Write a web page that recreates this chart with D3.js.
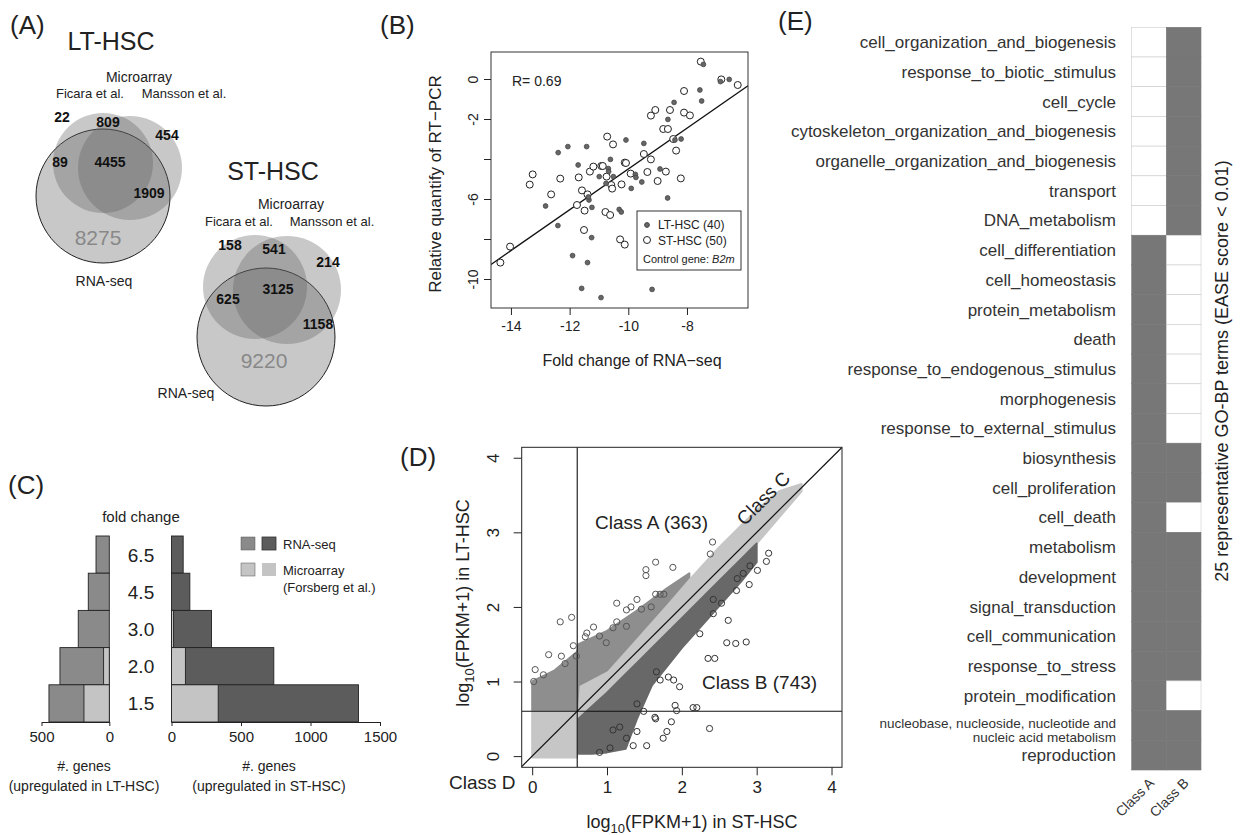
<!DOCTYPE html>
<html>
<head>
<meta charset="utf-8">
<script src="https://cdn.jsdelivr.net/npm/d3@7"></script>
<style>
body { margin: 0; background: #fff; }
svg text { font-family: "Liberation Sans", Arial, sans-serif; fill: #222; }
</style>
</head>
<body>
<script>
// ---------- DATA ----------
// (A) venn counts: Ficara only, Ficara&Mansson, Mansson only, Ficara&RNA, all, Mansson&RNA, RNA only
var vennRegions = ["F", "FM", "M", "FR", "FMR", "MR", "R"];
var ltCounts = [22, 809, 454, 89, 4455, 1909, 8275];
var stCounts = [158, 541, 214, 625, 3125, 1158, 9220];

// (B) fold change of RNA-seq vs relative quantity of RT-PCR
var ltPoints = [[-7.44,0.73],[-6.86,-0.13],[-6.56,-0.02],[-7.56,-0.55],[-7.5,-1.1],[-8.44,-1.17],[-8.65,-2.02],
  [-8.41,-3.05],[-8.2,-3.0],[-9.47,-3.22],[-10.08,-3.05],[-11.42,-3.38],[-12.06,-3.38],[-12.39,-3.68],
  [-11.71,-4.3],[-10.61,-4.02],[-10.68,-4.48],[-10.67,-4.63],[-10.99,-4.88],[-10.51,-4.88],[-9.76,-4.77],
  [-9.74,-4.92],[-9.54,-5.15],[-8.92,-4.5],[-9.9,-5.47],[-10.76,-5.22],[-8.66,-5.95],[-11.34,-6.05],
  [-11.24,-6.42],[-12.82,-6.35],[-12.4,-7.33],[-11.25,-7.93],[-10.31,-6.52],[-10.24,-6.65],[-11.9,-8.83],
  [-11.39,-9.18],[-11.59,-10.47],[-10.93,-10.93],[-9.19,-10.52],[-11.36,-5.9]];
var stPoints = [[-7.53,0.87],[-6.83,-0.02],[-6.27,-0.3],[-8.1,-0.6],[-9.08,-1.55],[-9.23,-1.83],[-8.58,-1.55],
  [-8.1,-1.68],[-7.9,-1.82],[-8.81,-2.5],[-8.65,-2.5],[-8.47,-3.0],[-8.37,-3.58],[-9.47,-3.75],[-9.23,-4.02],
  [-10.72,-2.88],[-10.52,-3.27],[-10.12,-4.18],[-10.08,-4.2],[-10.92,-4.35],[-10.87,-4.35],[-11.31,-4.63],
  [-10.74,-4.88],[-9.92,-4.73],[-9.35,-4.65],[-8.72,-4.63],[-9.0,-5.1],[-8.21,-4.97],[-11.69,-4.92],
  [-12.32,-4.98],[-13.26,-4.77],[-13.36,-5.28],[-12.63,-5.77],[-11.58,-5.57],[-11.39,-5.77],[-11.75,-6.3],
  [-11.49,-6.58],[-10.58,-5.3],[-10.23,-5.27],[-10.55,-5.48],[-10.78,-6.65],[-10.62,-6.8],[-11.51,-7.55],
  [-10.28,-8.02],[-10.12,-8.28],[-14.03,-8.38],[-14.36,-9.18],[-11.19,-4.38]];
var fitSlope = 1.02, fitIntercept = 5.7, rValue = "0.69";
var bXTicks = [-14, -12, -10, -8];
var bYTicks = [-10, -8, -6, -4, -2, 0];
var bYLabelled = [-10, -6, -2, 0];

// (C) number of genes per fold change
var foldChanges = ["6.5", "4.5", "3.0", "2.0", "1.5"];
var ltRnaseq = [98, 155, 229, 364, 445];
var ltMicro = [0, 0, 0, 42, 187];
var stRnaseq = [84, 132, 288, 736, 1345];
var stMicro = [0, 0, 15, 100, 336];
var ltTicks = [0, 500];
var stTicks = [0, 500, 1000, 1500];

// (D) log10(FPKM+1): dense clouds as bands, sparse genes as points
var lightX  = [0.0, 0.6, 0.62, 1.0, 1.5, 2.0, 2.5, 3.0, 3.3, 3.6];
var lightLo = [-0.02, -0.02, 0.5, 0.85, 1.35, 1.85, 2.35, 2.85, 3.2, 3.55];
var lightHi = [0.62, 0.62, 0.95, 1.15, 1.7, 2.25, 2.8, 3.3, 3.55, 3.65];
var classAX  = [0.0, 0.3, 0.6, 0.62, 1.0, 1.4, 1.8, 2.1];
var classALo = [0.62, 0.62, 0.62, 0.95, 1.15, 1.6, 2.05, 2.4];
var classAHi = [1.0, 1.15, 1.4, 1.5, 1.68, 1.95, 2.25, 2.45];
var classBX  = [0.62, 0.8, 1.0, 1.25, 1.4, 1.6, 2.0, 2.4, 2.8, 3.0];
var classBLo = [0.03, 0.03, 0.05, 0.1, 0.5, 0.95, 1.45, 1.9, 2.35, 2.6];
var classBHi = [0.5, 0.67, 0.85, 1.1, 1.25, 1.45, 1.85, 2.25, 2.65, 2.85];
var classAOut = [[0.375,1.80],[0.527,1.86],[1.13,2.05],[1.52,2.50],[1.52,2.42],[1.65,2.60],[1.88,2.53],
  [2.41,2.87],[2.38,2.71],[1.65,2.17],[1.71,2.17],[1.76,2.17],[1.40,2.10],[1.32,2.0],[1.46,1.97],[1.59,2.0],
  [1.26,1.74],[1.08,1.72],[0.82,1.73],[0.73,1.65],[0.90,1.61],[0.04,1.16],[0.02,1.0],[0.15,1.09],[0.22,1.36],
  [0.39,1.34],[0.59,1.34],[0.55,1.48],[0.44,1.24],[1.13,1.80],[1.26,1.96],[0.99,1.52],[0.71,1.60]];
var classBOut = [[3.16,2.72],[3.13,2.61],[2.91,2.55],[3.01,2.49],[2.90,2.30],[2.82,2.45],[2.74,2.38],
  [2.73,2.22],[2.62,1.82],[2.60,1.52],[2.72,1.51],[2.86,1.53],[2.35,1.31],[2.44,1.31],[2.42,1.91],[2.24,1.64],
  [2.15,0.65],[2.20,0.65],[1.91,0.68],[1.93,0.61],[2.37,0.37],[1.86,0.46],[1.64,0.52],[1.65,0.50],[1.80,0.33],
  [1.75,0.24],[1.53,0.14],[1.35,0.14],[1.26,0.24],[1.40,0.33],[1.08,0.35],[1.17,0.39],[0.90,0.05],[1.04,0.11],
  [1.89,1.02],[1.82,1.06],[1.97,0.93],[1.71,1.02],[1.66,1.13],[1.49,0.60],[1.40,0.70],[2.42,2.10],[2.53,2.05]];
var dTicks = [0, 1, 2, 3, 4];
var fpkmCut = 0.602;
var classACount = 363, classBCount = 743;

// (E) GO-BP terms, 1 = enriched
var goTerms = ["cell_organization_and_biogenesis", "response_to_biotic_stimulus", "cell_cycle",
  "cytoskeleton_organization_and_biogenesis", "organelle_organization_and_biogenesis", "transport",
  "DNA_metabolism", "cell_differentiation", "cell_homeostasis", "protein_metabolism", "death",
  "response_to_endogenous_stimulus", "morphogenesis", "response_to_external_stimulus", "biosynthesis",
  "cell_proliferation", "cell_death", "metabolism", "development", "signal_transduction",
  "cell_communication", "response_to_stress", "protein_modification",
  "nucleobase, nucleoside, nucleotide and|nucleic acid metabolism", "reproduction"];
var classA = [0,0,0,0,0,0,0,1,1,1,1,1,1,1,1,1,1,1,1,1,1,1,1,1,1];
var classB = [1,1,1,1,1,1,1,0,0,0,0,0,0,0,1,1,0,1,1,1,1,1,0,1,1];

// ---------- DRAWING ----------
var width = 1242, height = 835;
var svg = d3.select("body").append("svg")
  .attr("width", width).attr("height", height);
var defs = svg.append("defs");

function label(x, y, txt, size, opts) {
  opts = opts || {};
  var t = svg.append("text").attr("x", x).attr("y", y)
    .attr("font-size", size).text(txt);
  if (opts.anchor) t.attr("text-anchor", opts.anchor);
  if (opts.weight) t.attr("font-weight", opts.weight);
  if (opts.fill) t.style("fill", opts.fill);
  if (opts.rotate != null) t.attr("transform", "rotate(" + opts.rotate + "," + x + "," + y + ")");
  return t;
}
function hyphen(d) { return String(d); }

// R style left axis: rotated labels
function leftAxis(scale, x0, ticks, fmt, tickLen, labOff, fs) {
  var a = svg.append("g").attr("transform", "translate(" + x0 + ",0)")
    .call(d3.axisLeft(scale).tickValues(ticks).tickSize(tickLen).tickFormat(fmt));
  a.attr("font-family", null).attr("font-size", null);
  a.select(".domain").remove();
  a.selectAll("line").attr("stroke", "#222");
  a.selectAll("text").attr("x", null).attr("dy", null)
    .attr("text-anchor", "middle").attr("font-size", fs)
    .attr("transform", "translate(" + (-labOff) + ",0) rotate(-90)");
}
function bottomAxis(scale, y0, ticks, tickLen, labOff, fs, keepDomain) {
  var a = svg.append("g").attr("transform", "translate(0," + y0 + ")")
    .call(d3.axisBottom(scale).tickValues(ticks).tickSize(tickLen).tickSizeOuter(0).tickFormat(hyphen));
  a.attr("font-family", null).attr("font-size", null);
  if (!keepDomain) a.select(".domain").remove();
  a.selectAll("path, line").attr("stroke", "#222");
  a.selectAll("text").attr("y", labOff).attr("dy", null).attr("font-size", fs);
}

// panel letters
label(10, 34, "(A)", 26);
label(380, 34, "(B)", 26);
label(8, 494, "(C)", 26);
label(400, 466, "(D)", 26);
label(778, 30, "(E)", 26);

// ===== (A) Venn diagrams =====
function venn(layout, counts) {
  var g = svg.append("g");
  layout.circles.forEach(function(c, i) {
    g.append("circle").attr("cx", c[0]).attr("cy", c[1]).attr("r", c[2])
      .attr("fill", "#5e5e5e").attr("fill-opacity", 0.34)
      .attr("stroke", i == 0 ? "#222" : "none").attr("stroke-width", 1);
  });
  counts.forEach(function(n, i) {
    var p = layout.pos[i];
    var big = vennRegions[i] == "R";
    label(p[0], p[1], n, big ? 21 : 14, {anchor: "middle", weight: big ? null : "bold",
      fill: big ? "#888" : "#111"});
  });
  label(layout.title[0], layout.title[1], layout.name, 25, {anchor: "middle"});
  label(layout.micro[0], layout.micro[1], "Microarray", 14, {anchor: "middle"});
  label(layout.ficara[0], layout.ficara[1], "Ficara et al.", 13, {anchor: "middle"});
  label(layout.mansson[0], layout.mansson[1], "Mansson et al.", 13, {anchor: "middle"});
  label(layout.rna[0], layout.rna[1], "RNA-seq", 14, {anchor: "middle"});
}
venn({name: "LT-HSC", title: [111, 50], micro: [139, 82], ficara: [90, 98], mansson: [184, 98],
  rna: [104, 286],
  circles: [[103, 196, 67], [103, 163, 50], [130, 168, 52]],
  pos: [[62, 122], [108, 127], [167, 140], [60, 167], [110, 167], [149, 198], [98, 245]]}, ltCounts);
venn({name: "ST-HSC", title: [273, 180], micro: [291, 209], ficara: [239, 226], mansson: [332, 226],
  rna: [186, 398],
  circles: [[266, 337, 69], [255, 287, 52], [287, 290, 54]],
  pos: [[230, 250], [274, 254], [328, 267], [228, 304], [278, 294], [318, 329], [264, 368]]}, stCounts);

// ===== (B) scatter =====
var xB = d3.scaleLinear().domain([-14.68, -5.92]).range([491, 748]);
var yB = d3.scaleLinear().domain([1.35, -11.45]).range([52, 308]);
defs.append("clipPath").attr("id", "clipB").append("rect")
  .attr("x", 491).attr("y", 52).attr("width", 257).attr("height", 256);
svg.append("line").attr("clip-path", "url(#clipB)")
  .attr("x1", xB(-14.68)).attr("y1", yB(fitSlope * -14.68 + fitIntercept))
  .attr("x2", xB(-5.92)).attr("y2", yB(fitSlope * -5.92 + fitIntercept))
  .attr("stroke", "#111").attr("stroke-width", 1.3);
svg.append("g").selectAll("circle").data(stPoints).enter().append("circle")
  .attr("cx", function(d) { return xB(d[0]); }).attr("cy", function(d) { return yB(d[1]); })
  .attr("r", 3.5).attr("fill", "#fff").attr("stroke", "#222").attr("stroke-width", 1);
svg.append("g").selectAll("circle").data(ltPoints).enter().append("circle")
  .attr("cx", function(d) { return xB(d[0]); }).attr("cy", function(d) { return yB(d[1]); })
  .attr("r", 2.4).attr("fill", "#666").attr("stroke", "#444").attr("stroke-width", 0.8);
svg.append("rect").attr("x", 491).attr("y", 52).attr("width", 257).attr("height", 256)
  .attr("fill", "none").attr("stroke", "#333").attr("stroke-width", 1);
bottomAxis(xB, 308, bXTicks, 7, 23, 14);
leftAxis(yB, 491, bYTicks, function(d) { return bYLabelled.indexOf(d) >= 0 ? String(d) : ""; }, 7, 13, 14);
label(512, 86, "R= " + rValue, 14);
label(632, 366, "Fold change of RNA\u2212seq", 16, {anchor: "middle"});
label(441, 184, "Relative quantify of RT\u2212PCR", 17, {anchor: "middle", rotate: -90});
// legend
svg.append("rect").attr("x", 637).attr("y", 211).attr("width", 104).attr("height", 59)
  .attr("fill", "#fff").attr("stroke", "#333");
svg.append("circle").attr("cx", 647).attr("cy", 225).attr("r", 2.4).attr("fill", "#666").attr("stroke", "#444");
svg.append("circle").attr("cx", 647).attr("cy", 240).attr("r", 3.5).attr("fill", "#fff").attr("stroke", "#222");
label(658, 229, "LT-HSC (" + ltPoints.length + ")", 12);
label(658, 245, "ST-HSC (50)", 12);
var ctl = label(643, 263, "Control gene: ", 11);
ctl.append("tspan").attr("font-style", "italic").text("B2m");

// ===== (C) mirrored bars =====
var yC = d3.scaleBand().domain(foldChanges).range([536, 722]);
var xCL = d3.scaleLinear().domain([0, 500]).range([109.3, 41.5]);
var xCR = d3.scaleLinear().domain([0, 1500]).range([171.5, 380]);
function bars(data, xs, fill, left) {
  var rows = data.map(function(v, i) { return {fold: foldChanges[i], v: v}; })
    .filter(function(d) { return d.v > 0; });
  svg.append("g").selectAll("rect").data(rows).enter().append("rect")
    .attr("x", function(d) { return left ? xs(d.v) : xs(0); })
    .attr("y", function(d) { return yC(d.fold); })
    .attr("width", function(d) { return Math.abs(xs(d.v) - xs(0)); })
    .attr("height", yC.bandwidth())
    .attr("fill", fill).attr("stroke", "#222").attr("stroke-width", 0.9);
}
bars(ltRnaseq, xCL, "#8a8a8a", true);
bars(ltMicro, xCL, "#c4c4c4", true);
bars(stRnaseq, xCR, "#5c5c5c", false);
bars(stMicro, xCR, "#c4c4c4", false);
foldChanges.forEach(function(f) {
  label(141, yC(f) + yC.bandwidth() / 2 + 7, f, 19, {anchor: "middle"});
});
label(141, 522, "fold change", 15, {anchor: "middle"});
bottomAxis(xCL, 722, ltTicks, 4, 20, 15, true);
bottomAxis(xCR, 722, stTicks, 4, 20, 15, true);
label(84, 771, "#. genes", 14, {anchor: "middle"});
label(84, 791, "(upregulated in LT-HSC)", 14, {anchor: "middle"});
label(269, 771, "#. genes", 14, {anchor: "middle"});
label(269, 791, "(upregulated in ST-HSC)", 14, {anchor: "middle"});
// legend
[["#8a8a8a", "#5c5c5c", 537], ["#c4c4c4", "#c4c4c4", 563]].forEach(function(r) {
  svg.append("rect").attr("x", 241).attr("y", r[2]).attr("width", 14).attr("height", 13)
    .attr("fill", r[0]).attr("stroke", "#555").attr("stroke-width", 0.5);
  svg.append("rect").attr("x", 262).attr("y", r[2]).attr("width", 14).attr("height", 13)
    .attr("fill", r[1]).attr("stroke", "#333").attr("stroke-width", r[0] == r[1] ? 0 : 0.8);
});
label(283, 549, "RNA-seq", 13);
label(283, 575, "Microarray", 13);
label(283, 592, "(Forsberg et al.)", 13);

// ===== (D) FPKM scatter =====
var xD = d3.scaleLinear().domain([-0.14, 4.14]).range([521.7, 842]);
var yD = d3.scaleLinear().domain([-0.15, 4.14]).range([767.3, 447.3]);
defs.append("clipPath").attr("id", "clipD").append("rect")
  .attr("x", 521.7).attr("y", 447.3).attr("width", 320.3).attr("height", 320);
var gD = svg.append("g").attr("clip-path", "url(#clipD)");
function band(xs, lo, hi, fill) {
  var rows = xs.map(function(x, i) { return {x: x, lo: lo[i], hi: hi[i]}; });
  gD.append("path").datum(rows)
    .attr("d", d3.area().x(function(d) { return xD(d.x); })
      .y0(function(d) { return yD(d.lo); }).y1(function(d) { return yD(d.hi); }))
    .attr("fill", fill).attr("stroke", fill).attr("stroke-width", 2).attr("stroke-linejoin", "round");
}
band(lightX, lightLo, lightHi, "#c6c6c6");
band(classAX, classALo, classAHi, "#8e8e8e");
band(classBX, classBLo, classBHi, "#686868");
gD.append("line").attr("x1", xD(-0.2)).attr("y1", yD(-0.2)).attr("x2", xD(4.2)).attr("y2", yD(4.2))
  .attr("stroke", "#111").attr("stroke-width", 1.2);
gD.append("line").attr("x1", xD(fpkmCut)).attr("x2", xD(fpkmCut)).attr("y1", 447.3).attr("y2", 767.3)
  .attr("stroke", "#111").attr("stroke-width", 1.1);
gD.append("line").attr("y1", yD(fpkmCut)).attr("y2", yD(fpkmCut)).attr("x1", 521.7).attr("x2", 842)
  .attr("stroke", "#111").attr("stroke-width", 1.1);
[[classAOut, "#555"], [classBOut, "#333"]].forEach(function(s) {
  gD.append("g").selectAll("circle").data(s[0]).enter().append("circle")
    .attr("cx", function(d) { return xD(d[0]); }).attr("cy", function(d) { return yD(d[1]); })
    .attr("r", 3.1).attr("fill", "none").attr("stroke", s[1]).attr("stroke-width", 1);
});
svg.append("rect").attr("x", 521.7).attr("y", 447.3).attr("width", 320.3).attr("height", 320)
  .attr("fill", "none").attr("stroke", "#222").attr("stroke-width", 1);
bottomAxis(xD, 767.3, dTicks, 8, 26, 17);
leftAxis(yD, 521.7, dTicks, hyphen, 8, 23, 17);
label(595, 529, "Class A (" + classACount + ")", 19);
label(702, 689, "Class B (" + classBCount + ")", 19);
label(449, 789, "Class D", 19);
label(768, 503, "Class C", 19, {anchor: "middle", rotate: -45});
var xt = label(692, 828, "log", 18, {anchor: "middle"});
xt.append("tspan").attr("font-size", 13).attr("dy", 5).text("10");
xt.append("tspan").attr("dy", -5).text("(FPKM+1) in ST-HSC");
var yt = label(469, 603, "log", 18, {anchor: "middle", rotate: -90});
yt.append("tspan").attr("font-size", 13).attr("dy", 5).text("10");
yt.append("tspan").attr("dy", -5).text("(FPKM+1) in LT-HSC");

// ===== (E) heatmap =====
var yE = d3.scaleBand().domain(goTerms).range([27.3, 770]);
var xE = d3.scaleBand().domain(["Class A", "Class B"]).range([1131.7, 1201]);
[["Class A", classA], ["Class B", classB]].forEach(function(col) {
  svg.append("g").selectAll("rect").data(col[1]).enter().append("rect")
    .attr("x", xE(col[0])).attr("y", function(d, i) { return yE(goTerms[i]); })
    .attr("width", xE.bandwidth()).attr("height", yE.bandwidth())
    .attr("fill", function(d) { return d ? "#777" : "#fff"; })
    .attr("stroke", function(d) { return d ? "#777" : "#ccc"; }).attr("stroke-width", 0.6);
});
goTerms.forEach(function(t) {
  var lines = t.split("|");
  var cy = yE(t) + yE.bandwidth() / 2;
  if (lines.length == 1) {
    label(1116, cy + 6, t, 17, {anchor: "end", fill: "#333"});
  } else {
    label(1116, cy + 3, lines[0], 13.5, {anchor: "end", fill: "#333"});
    label(1116, cy + 17, lines[1], 13.5, {anchor: "end", fill: "#333"});
  }
});
xE.domain().forEach(function(c) {
  label(xE(c) + xE.bandwidth() / 2 + 6, 784, c, 14, {anchor: "end", rotate: -45, fill: "#333"});
});
label(1228, 371, "25 representative GO-BP terms (EASE score < 0.01)", 18, {anchor: "middle", rotate: -90});
</script>
</body>
</html>
